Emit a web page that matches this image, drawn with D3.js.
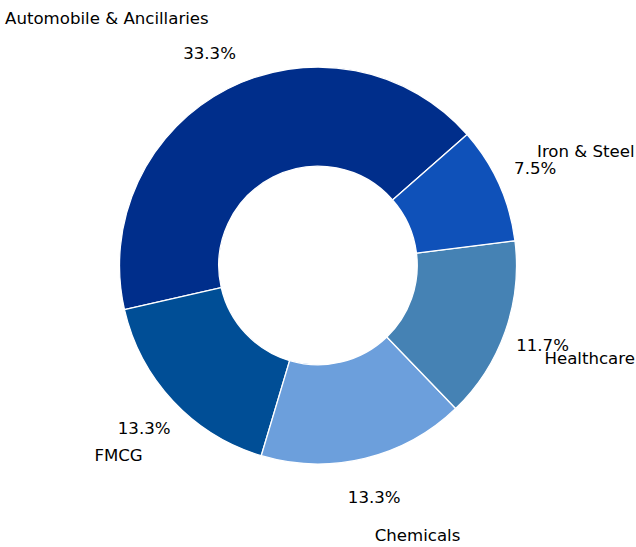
<!DOCTYPE html>
<html>
<head>
<meta charset="utf-8">
<script src="https://cdn.jsdelivr.net/npm/d3@7"></script>
<style>
  body { margin: 0; background: #fff; }
  svg { display: block; }
</style>
</head>
<body>
<script>
// sector weights (% of portfolio)
let sectors = ["Automobile & Ancillaries", "FMCG", "Chemicals", "Healthcare", "Iron & Steel"];
let weights = [33.3, 13.3, 13.3, 11.7, 7.5];
let colors = ["#002e8b", "#004e96", "#6c9fdc", "#4582b4", "#0f51b9"];

function drawDonut() {
  var w = 636;
  var h = 547;
  var cx = 318, cy = 265.5;
  var radius = 198.5;
  var fontSize = "16.6px";

  var svg = d3.select("body")
              .append("svg")
              .attr("width", w)
              .attr("height", h);

  var g = svg.append("g")
    .attr("transform", "translate(" + cx + "," + cy + ")");

  // first wedge starts at ~41 deg (math angle) and goes counterclockwise
  var start = (90 - 41.3) * Math.PI / 180;
  var pie = d3.pie()
    .sort(null)
    .value(function(d) { return d; })
    .startAngle(start)
    .endAngle(start - 2 * Math.PI);

  var arcs = pie(weights);

  var arc = d3.arc()
    .innerRadius(radius * 0.5)
    .outerRadius(radius);

  g.selectAll("path")
    .data(arcs)
    .enter()
    .append("path")
    .attr("d", arc)
    .attr("fill", function(d, i) { return colors[i]; })
    .attr("stroke", "#fff")
    .attr("stroke-width", 1.3)
    .attr("stroke-linejoin", "round");

  function mid(d) {
    return (d.startAngle + d.endAngle) / 2;
  }

  // percentages
  g.selectAll("text.pct")
    .data(arcs)
    .enter()
    .append("text")
    .attr("class", "pct")
    .attr("x", function(d) { return radius * 1.2 * Math.sin(mid(d)); })
    .attr("y", function(d) { return -radius * 1.2 * Math.cos(mid(d)); })
    .attr("dy", "0.35em")
    .attr("text-anchor", "middle")
    .attr("font-family", "DejaVu Sans, sans-serif")
    .attr("font-size", fontSize)
    .attr("fill", "#000")
    .text(function(d) { return d.data.toFixed(1) + "%"; });

  // sector names
  g.selectAll("text.lbl")
    .data(arcs)
    .enter()
    .append("text")
    .attr("class", "lbl")
    .attr("x", function(d) { return radius * 1.21 * Math.sin(mid(d)); })
    .attr("y", function(d) { return -radius * 1.4 * Math.cos(mid(d)); })
    .attr("dy", "0.35em")
    .attr("text-anchor", function(d) {
      return Math.sin(mid(d)) > 0 ? "start" : "end";
    })
    .attr("font-family", "DejaVu Sans, sans-serif")
    .attr("font-size", fontSize)
    .attr("fill", "#000")
    .text(function(d, i) { return sectors[i]; });
}

window.onload = function() {
  drawDonut();
};
</script>
</body>
</html>
